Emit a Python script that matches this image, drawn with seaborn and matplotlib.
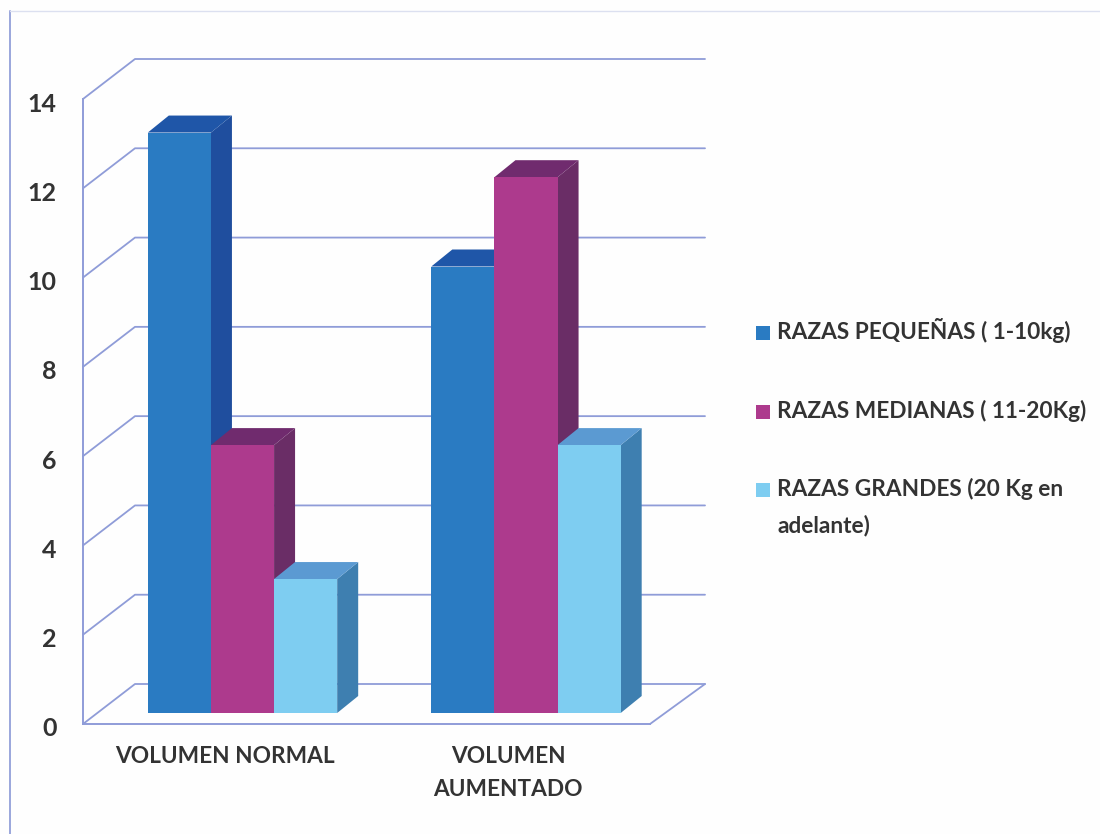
import pandas as pd
import matplotlib
matplotlib.use("Agg")
import matplotlib.pyplot as plt
from matplotlib.patches import Polygon, Rectangle
from matplotlib.transforms import ScaledTranslation
import seaborn as sns

categories = ["VOLUMEN NORMAL", "VOLUMEN\nAUMENTADO"]
razas = ["RAZAS PEQUEÑAS ( 1-10kg)", "RAZAS MEDIANAS ( 11-20Kg)", "RAZAS GRANDES (20 Kg en", "adelante)"]
pequenas = [13, 10]
medianas = [6, 12]
grandes = [3, 6]
y_ticks = [0, 2, 4, 6, 8, 10, 12, 14]

front_colors = ["#2A7BC2", "#AD3A8D", "#7ECDF1"]
side_colors = ["#1F4E9E", "#6A2D66", "#3E7FB0"]
top_colors = ["#1F56A8", "#702B6E", "#5B9AD2"]
line_color = "#8F9CD8"
text_color = "#333333"

W, H = 1100, 834

sns.set_theme(style="white")
plt.rcParams["font.family"] = ["Lato", "DejaVu Sans"]

serie_nombres = razas[:3]
df = pd.DataFrame({
    "categoria": categories * 3,
    "raza": [r for r in serie_nombres for _ in categories],
    "valor": pequenas + medianas + grandes,
})


def px_axes(fig, x0, x1, y_bottom, y_top):
    return fig.add_axes([x0 / W, 1 - y_bottom / H, (x1 - x0) / W, (y_bottom - y_top) / H])


fig = plt.figure(figsize=(W / 100, H / 100), dpi=100, facecolor="#FEFEFE")

# marco del grafico
fig.add_artist(plt.Line2D([10 / W, 10 / W], [0, 1 - 11 / H], color="#9AA6DC", lw=1.4))
fig.add_artist(plt.Line2D([10 / W, 1], [1 - 11 / H, 1 - 11 / H], color="#DCE0F0", lw=1))

# plano frontal con ejes y etiquetas
ax = px_axes(fig, 83, 650, 724, 99)
ax.set_xlim(-0.5, 1.5)
ax.set_ylim(0, 14)
ax.set_facecolor("none")
ax.set_xticks(range(len(categories)))
ax.set_xticklabels(categories, fontsize=16.3, color=text_color, fontweight="bold", linespacing=1.7, va="top")
ax.set_yticks(y_ticks)
ax.set_yticklabels(y_ticks, fontsize=18, color=text_color, fontweight="bold")
ax.tick_params(axis="x", length=0, pad=16)
ax.tick_params(axis="y", length=0, pad=19)
# numeros un poco mas abajo que la linea, como en el original
nudge = ScaledTranslation(0, -3 / 100, fig.dpi_scale_trans)
for lab in ax.get_yticklabels():
    lab.set_transform(lab.get_transform() + nudge)
sns.despine(ax=ax, top=True, right=True)
for s in ["left", "bottom"]:
    ax.spines[s].set_color(line_color)
    ax.spines[s].set_linewidth(1.4)

# paredes: lineas de la cuadricula en perspectiva
sx = 2 / 567
sy = 14 / 625
for t in y_ticks:
    ax.plot([-0.5, -0.5 + 52 * sx, 1.5 + 55 * sx],
            [t, t + 40 * sy, t + 40 * sy],
            color=line_color, lw=1.3, clip_on=False, zorder=1)
ax.plot([1.5, 1.5 + 55 * sx], [0, 40 * sy], color=line_color, lw=1.3, clip_on=False, zorder=1)

# barras, desplazadas hacia el fondo
bx = px_axes(fig, 100.75, 667.75, 713, 713 - 14 * 44.65)
sns.barplot(data=df, x="categoria", y="valor", hue="raza", order=categories, hue_order=serie_nombres,
            palette=front_colors, width=0.668, gap=0, saturation=1, legend=False, ax=bx)
bx.set_xlim(-0.5, 1.5)
bx.set_ylim(0, 14)
bx.axis("off")

# caras lateral y superior de cada barra
dx = 21 * sx
dy = 17 / 44.65
bars = []
for container, side, top in zip(bx.containers, side_colors, top_colors):
    for bar in container:
        bars.append((bar, side, top))
bars.sort(key=lambda b: b[0].get_x())
for i, (bar, side, top) in enumerate(bars):
    x0 = bar.get_x()
    x1 = x0 + bar.get_width()
    h = bar.get_height()
    z = 3 + i * 0.1
    bar.set_zorder(z + 0.05)
    bar.set_linewidth(0)
    bx.add_patch(Polygon([(x1, 0), (x1 + dx, dy), (x1 + dx, h + dy), (x1, h)], closed=True,
                         facecolor=side, edgecolor="none", zorder=z, clip_on=False))
    bx.add_patch(Polygon([(x0, h), (x0 + dx, h + dy), (x1 + dx, h + dy), (x1, h)], closed=True,
                         facecolor=top, edgecolor="none", zorder=z, clip_on=False))

# leyenda
legend_y = [333, 412, 490, 526]
for label, ly in zip(razas, legend_y):
    fig.text(777 / W, 1 - (ly + 6) / H, label, fontsize=16.3, color=text_color, fontweight="bold",
             va="baseline", ha="left")
for color, ly in zip(front_colors, legend_y):
    fig.add_artist(Rectangle((756 / W, 1 - (ly + 7) / H), 14 / W, 14 / H, transform=fig.transFigure,
                             facecolor=color, edgecolor="none"))

fig.savefig("out.png", dpi=100, facecolor=fig.get_facecolor())
